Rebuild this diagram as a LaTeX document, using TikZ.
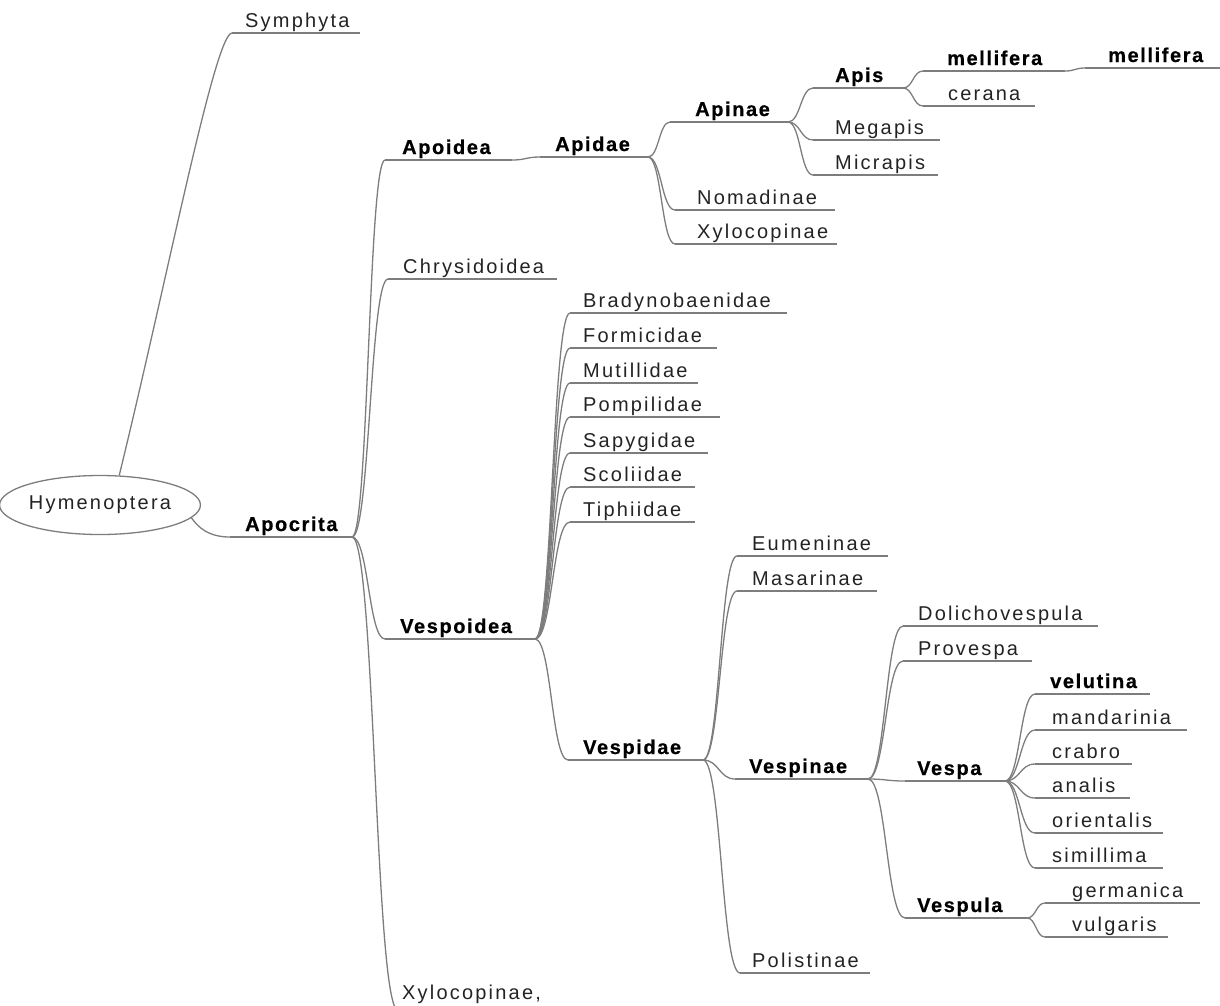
\documentclass[tikz,border=0pt]{standalone}
\usepackage{fontspec}
\setmainfont{Liberation Sans}
\newfontfamily\regf[LetterSpace=11]{Liberation Sans}
\newfontfamily\bldf[LetterSpace=8,BoldFeatures={FakeBold=0.6}]{Liberation Sans}
\usetikzlibrary{calc,shapes.geometric}
\definecolor{linegray}{RGB}{125,125,125}
\definecolor{txt}{RGB}{35,35,35}
\tikzset{
  conn/.style={draw=linegray, line width=1.3pt},
  reg/.style={font=\regf\fontsize{20}{22}\selectfont, text=txt, inner sep=0pt},
  bld/.style={font=\bldf\bfseries\fontsize{20}{22}\selectfont, text=black, inner sep=0pt},
}
\newcommand\mmnode[7]{%
  \coordinate (#1-l) at (#2,#4);
  \coordinate (#1-r) at (#3,#4);
  \node[#6, anchor=base west] (#1) at (#5,#4-6) {#7};
  \draw[conn] (#1-l) -- (#1-r);}
\newcommand\mmlink[2]{%
  \draw[conn] let \p1=(#1-r), \p2=(#2-l), \n1={(\x1+\x2)/2} in (\p1) .. controls (\n1,\y1) and (\n1,\y2) .. (\p2);}
\begin{document}
\begin{tikzpicture}[x=1pt,y=-1pt]
\useasboundingbox (0,0) rectangle (1220,1005);
\clip (0,0) rectangle (1220,1005);
\node[draw=linegray, line width=1.3pt, ellipse, minimum width=186pt, minimum height=59pt, inner sep=0pt,
  font=\regf\fontsize{20}{22}\selectfont, text=txt] (hym) at (100,505) {Hymenoptera};
% nodes: name, left, right, underline y, text x, style, text
\mmnode{symphyta}{232}{360}{33}{245}{reg}{Symphyta}
\mmnode{apocrita}{230}{352}{537}{245}{bld}{Apocrita}
\mmnode{apoidea}{385}{512}{160}{402}{bld}{Apoidea}
\mmnode{apidae}{540}{648}{157}{555}{bld}{Apidae}
\mmnode{apinae}{670}{788}{122}{695}{bld}{Apinae}
\mmnode{apis}{813}{903}{88}{835}{bld}{Apis}
\mmnode{mellA}{923}{1065}{71}{947}{bld}{mellifera}
\mmnode{mellB}{1085}{1222}{68}{1108}{bld}{mellifera}
\mmnode{cerana}{923}{1035}{106}{948}{reg}{cerana}
\mmnode{megapis}{813}{940}{140}{835}{reg}{Megapis}
\mmnode{micrapis}{813}{938}{175}{835}{reg}{Micrapis}
\mmnode{nomadinae}{675}{835}{210}{697}{reg}{Nomadinae}
\mmnode{xylA}{675}{837}{244}{697}{reg}{Xylocopinae}
\mmnode{chrysidoidea}{388}{557}{279}{403}{reg}{Chrysidoidea}
\mmnode{vespoidea}{385}{535}{639}{400}{bld}{Vespoidea}
\mmnode{bradyno}{570}{787}{313}{583}{reg}{Bradynobaenidae}
\mmnode{formicidae}{570}{717}{348}{583}{reg}{Formicidae}
\mmnode{mutillidae}{570}{698}{383}{583}{reg}{Mutillidae}
\mmnode{pompilidae}{570}{720}{417}{583}{reg}{Pompilidae}
\mmnode{sapygidae}{570}{708}{453}{583}{reg}{Sapygidae}
\mmnode{scoliidae}{570}{695}{487}{583}{reg}{Scoliidae}
\mmnode{tiphiidae}{570}{695}{522}{583}{reg}{Tiphiidae}
\mmnode{vespidae}{568}{703}{760}{583}{bld}{Vespidae}
\mmnode{eumeninae}{737}{888}{556}{752}{reg}{Eumeninae}
\mmnode{masarinae}{737}{877}{591}{752}{reg}{Masarinae}
\mmnode{vespinae}{735}{868}{779}{749}{bld}{Vespinae}
\mmnode{polistinae}{740}{870}{973}{752}{reg}{Polistinae}
\mmnode{dolicho}{903}{1098}{626}{918}{reg}{Dolichovespula}
\mmnode{provespa}{903}{1032}{661}{918}{reg}{Provespa}
\mmnode{vespa}{905}{1005}{781}{917}{bld}{Vespa}
\mmnode{vespula}{905}{1027}{918}{917}{bld}{Vespula}
\mmnode{velutina}{1035}{1150}{694}{1050}{bld}{velutina}
\mmnode{mandarinia}{1035}{1187}{730}{1052}{reg}{mandarinia}
\mmnode{crabro}{1035}{1132}{764}{1052}{reg}{crabro}
\mmnode{analis}{1035}{1130}{798}{1052}{reg}{analis}
\mmnode{orientalis}{1035}{1163}{833}{1052}{reg}{orientalis}
\mmnode{simillima}{1035}{1163}{868}{1052}{reg}{simillima}
\mmnode{germanica}{1045}{1200}{903}{1072}{reg}{germanica}
\mmnode{vulgaris}{1045}{1168}{937}{1072}{reg}{vulgaris}
\coordinate (xylB-l) at (398,1010);
\coordinate (xylB-r) at (545,1010);
\node[reg, anchor=base west] (xylB) at (402,999) {Xylocopinae,};
\draw[conn] (xylB-l) -- (xylB-r);
% connectors
\draw[conn] (hym.57) .. controls (168,276) and (215,33) .. (symphyta-l);
\draw[conn] (hym.-8) .. controls (198,527) and (208,537) .. (apocrita-l);
\mmlink{apocrita}{apoidea}
\mmlink{apocrita}{chrysidoidea}
\mmlink{apocrita}{vespoidea}
\mmlink{apocrita}{xylB}
\mmlink{apoidea}{apidae}
\mmlink{apidae}{apinae}
\mmlink{apidae}{nomadinae}
\mmlink{apidae}{xylA}
\mmlink{apinae}{apis}
\mmlink{apinae}{megapis}
\mmlink{apinae}{micrapis}
\mmlink{apis}{mellA}
\mmlink{apis}{cerana}
\mmlink{mellA}{mellB}
\mmlink{vespoidea}{bradyno}
\mmlink{vespoidea}{formicidae}
\mmlink{vespoidea}{mutillidae}
\mmlink{vespoidea}{pompilidae}
\mmlink{vespoidea}{sapygidae}
\mmlink{vespoidea}{scoliidae}
\mmlink{vespoidea}{tiphiidae}
\mmlink{vespoidea}{vespidae}
\mmlink{vespidae}{eumeninae}
\mmlink{vespidae}{masarinae}
\mmlink{vespidae}{vespinae}
\mmlink{vespidae}{polistinae}
\mmlink{vespinae}{dolicho}
\mmlink{vespinae}{provespa}
\mmlink{vespinae}{vespa}
\mmlink{vespinae}{vespula}
\mmlink{vespa}{velutina}
\mmlink{vespa}{mandarinia}
\mmlink{vespa}{crabro}
\mmlink{vespa}{analis}
\mmlink{vespa}{orientalis}
\mmlink{vespa}{simillima}
\mmlink{vespula}{germanica}
\mmlink{vespula}{vulgaris}
\end{tikzpicture}
\end{document}
